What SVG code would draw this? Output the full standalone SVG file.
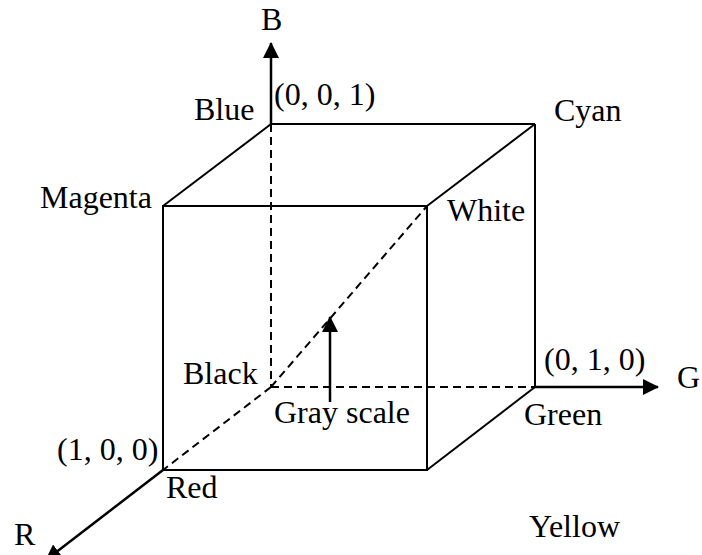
<svg xmlns="http://www.w3.org/2000/svg" width="702" height="555" viewBox="0 0 702 555">
<style>
text { font-family: "Liberation Serif", "Times New Roman", serif; font-size: 32px; fill: #000; }
.solid { stroke: #000; stroke-width: 2; fill: none; }
.dash { stroke: #000; stroke-width: 2; fill: none; stroke-dasharray: 8 5; }
.axis { stroke: #000; stroke-width: 2.5; fill: none; marker-end: url(#ah); }
</style>
<defs>
<marker id="ah" viewBox="0 0 16 16" refX="15" refY="8" markerWidth="16" markerHeight="16" markerUnits="userSpaceOnUse" orient="auto">
<path d="M0,0 L16,8 L0,16 Z" fill="#000"/>
</marker>
</defs>
<rect width="702" height="555" fill="#fff"/>
<g id="connectors">
<line class="dash" x1="271" y1="124" x2="271" y2="387"/>
<line class="dash" x1="271" y1="387" x2="535" y2="387"/>
<line class="dash" x1="271" y1="387" x2="163" y2="470"/>
<line class="dash" x1="271" y1="387" x2="427" y2="206"/>
<path class="solid" d="M163,206 H427 V470 H163 Z"/>
<line class="solid" x1="163" y1="206" x2="271" y2="124"/>
<line class="solid" x1="271" y1="124" x2="535" y2="124"/>
<line class="solid" x1="427" y1="206" x2="535" y2="124"/>
<line class="solid" x1="535" y1="124" x2="535" y2="387"/>
<line class="solid" x1="427" y1="470" x2="535" y2="387"/>
<line class="axis" x1="271" y1="124" x2="271" y2="43"/>
<line class="axis" x1="535" y1="387" x2="658" y2="387"/>
<line class="axis" x1="163" y1="470" x2="46" y2="560"/>
<line class="axis" x1="330" y1="402" x2="330" y2="317"/>
</g>
<g id="axis-B"><text x="261" y="30">B</text></g>
<g id="axis-G"><text x="677" y="388">G</text></g>
<g id="axis-R"><text x="14" y="545">R</text></g>
<g id="blue"><text x="194" y="120">Blue</text><text x="274" y="105">(0, 0, 1)</text></g>
<g id="cyan"><text x="554" y="121">Cyan</text></g>
<g id="magenta"><text x="40" y="208">Magenta</text></g>
<g id="white"><text x="447" y="221">White</text></g>
<g id="black"><text x="183" y="384">Black</text></g>
<g id="green"><text x="544" y="370">(0, 1, 0)</text><text x="524" y="425">Green</text></g>
<g id="red"><text x="57" y="460">(1, 0, 0)</text><text x="166" y="498">Red</text></g>
<g id="yellow"><text x="529" y="537">Yellow</text></g>
<g id="grayscale"><text x="274" y="423">Gray scale</text></g>
</svg>
